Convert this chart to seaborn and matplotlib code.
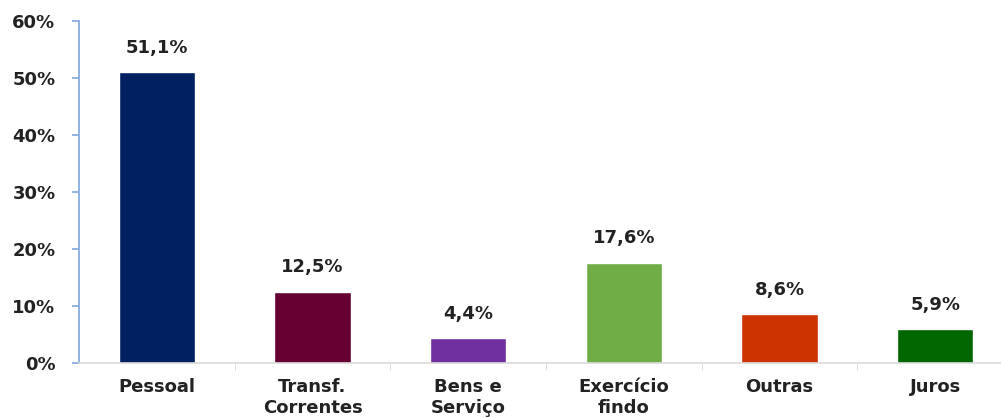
import matplotlib
matplotlib.use("Agg")
import matplotlib.pyplot as plt
import seaborn as sns
import pandas as pd
from matplotlib.ticker import PercentFormatter, FixedLocator

categorias = ["Pessoal", "Transf.\nCorrentes", "Bens e\nServiço", "Exercício\nfindo", "Outras", "Juros"]
valores = [51.1, 12.5, 4.4, 17.6, 8.6, 5.9]
rotulos = ["51,1%", "12,5%", "4,4%", "17,6%", "8,6%", "5,9%"]
cores = ["#002060", "#660033", "#7030A0", "#70AD47", "#CC3300", "#006600"]

df = pd.DataFrame({"cat": categorias, "val": valores})

sns.set_style("white")
plt.rcParams["font.family"] = ["DejaVu Sans"]
plt.rcParams["font.weight"] = "bold"

fig = plt.figure(figsize=(10.01, 4.18), dpi=100)
ax = fig.add_axes([0.079, 0.1316, 0.933, 0.818])

sns.barplot(data=df, x="cat", y="val", hue="cat", palette=cores, legend=False,
            width=0.49, saturation=1, ax=ax)

# etiquetas de valor acima das barras
for i, (v, r) in enumerate(zip(valores, rotulos)):
    ax.annotate(r, (i, v), xytext=(0, 11), textcoords="offset points",
                ha="center", va="bottom", fontsize=13, fontweight="bold", color="#222222")

ax.set_ylim(0, 60)
ax.set_xlim(-0.5, 5.5)
ax.yaxis.set_major_formatter(PercentFormatter(decimals=0))
ax.set_yticks(range(0, 61, 10))
ax.set_xlabel("")
ax.set_ylabel("")

ax.tick_params(axis="y", labelsize=13, labelcolor="#222222", length=5, width=1.2,
               direction="out", left=True, pad=12, color="#7FA6DE")
ax.tick_params(axis="x", labelsize=13, labelcolor="#222222", length=0, pad=11)
ax.xaxis.set_minor_locator(FixedLocator([0.5, 1.5, 2.5, 3.5, 4.5]))
ax.tick_params(axis="x", which="minor", length=5, color="#D9D9D9", bottom=True)

for lab in ax.get_xticklabels() + ax.get_yticklabels():
    lab.set_fontweight("bold")

for s in ["top", "right"]:
    ax.spines[s].set_visible(False)
ax.spines["left"].set_color("#7FA6DE")
ax.spines["left"].set_linewidth(1.2)
ax.spines["bottom"].set_color("#D9D9D9")
ax.spines["bottom"].set_linewidth(1.2)

fig.savefig("out.png", dpi=100)
